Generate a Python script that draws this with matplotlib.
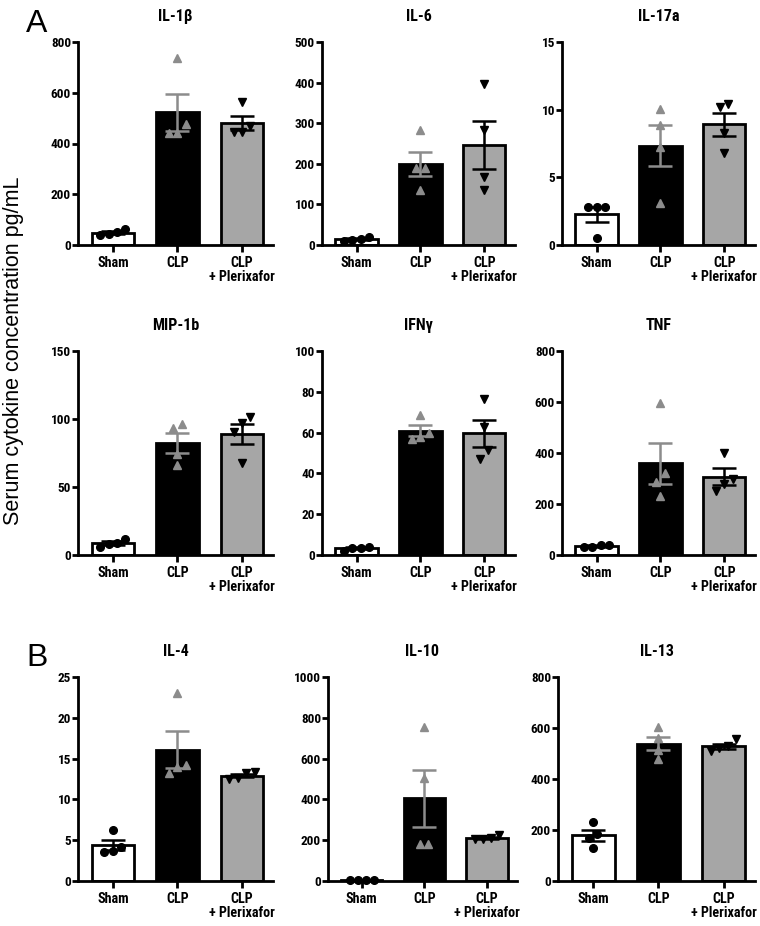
import numpy as np
import matplotlib
matplotlib.use("Agg")
import matplotlib.pyplot as plt

# ---------------- data ----------------
groups = ["Sham", "CLP", "CLP\n+ Plerixafor"]
titles = ["IL-1β", "IL-6", "IL-17a", "MIP-1b", "IFNγ", "TNF", "IL-4", "IL-10", "IL-13"]
ymax_list = [800, 500, 15, 150, 100, 800, 25, 1000, 800]
ystep_list = [200, 100, 5, 50, 20, 200, 5, 200, 200]

sham = [
    [45, 38, 50, 62],
    [15, 10, 12, 20],
    [2.83, 2.83, 2.83, 0.54],
    [8, 6, 9, 12],
    [3.5, 2, 3.5, 4],
    [38, 30, 33, 40],
    [6.2, 4.2, 3.7, 3.6],
    [5, 3, 4, 6],
    [233, 185, 170, 128],
]
clp = [
    [735, 475, 440, 440],
    [283, 190, 190, 135],
    [10.08, 8.85, 7.25, 3.12],
    [96, 93.5, 74.6, 66],
    [68.5, 60, 58, 57],
    [597, 321, 288, 230],
    [23, 14.2, 14, 13.2],
    [756, 507, 180, 180],
    [602, 560, 515, 478],
]
clp_plx = [
    [565, 470, 445, 445],
    [397, 283, 168, 135],
    [10.4, 10.2, 8.3, 6.8],
    [101.5, 97, 90.5, 67.3],
    [76.7, 62.8, 51.7, 47.3],
    [400, 298, 280, 250],
    [13.3, 13.2, 12.6, 12.5],
    [205, 205, 210, 225],
    [555, 530, 520, 510],
]

# ---------------- style ----------------
W, H = 760, 926
FONT = ["Liberation Sans Narrow", "Roboto Condensed", "DejaVu Sans"]
plt.rcParams["font.family"] = FONT

fig = plt.figure(figsize=(W / 100, H / 100), dpi=100)

rows = [(42, 245), (351, 555), (677, 881)]
cols = [[(78, 273), (322, 515), (562, 755)],
        [(78, 273), (322, 515), (562, 755)],
        [(78, 273), (328, 517), (558, 755)]]

bar_colors = ["white", "black", "#a6a6a6"]
err_colors = ["black", "#8c8c8c", "black"]
mk = ["o", "^", "v"]
mk_colors = ["black", "#8c8c8c", "black"]


def swarm_offsets(vals, ymax):
    vals = np.asarray(vals, float)
    order = np.argsort(vals)
    offs = np.zeros(len(vals))
    thr = 0.045 * ymax
    clusters = []
    cur = [order[0]]
    for i in order[1:]:
        if vals[i] - vals[cur[-1]] < thr:
            cur.append(i)
        else:
            clusters.append(cur)
            cur = [i]
    clusters.append(cur)
    for c in clusters:
        n = len(c)
        for k, idx in enumerate(c):
            offs[idx] = (k - (n - 1) / 2) * 0.13
    return offs


for p in range(9):
    r, c = divmod(p, 3)
    top, bot = rows[r]
    l, rr = cols[r][c]
    ax = fig.add_axes([l / W, 1 - bot / H, (rr - l) / W, (bot - top) / H])
    data = [sham[p], clp[p], clp_plx[p]]
    ymax = ymax_list[p]
    means = [np.mean(d) for d in data]
    sems = [np.std(d, ddof=1) / np.sqrt(len(d)) for d in data]
    x = np.arange(3)
    ax.bar(x, means, width=0.66, color=bar_colors, edgecolor="black",
           linewidth=2.0, zorder=2)
    for i in range(3):
        offs = swarm_offsets(data[i], ymax)
        ax.plot(x[i] + offs, data[i], linestyle="none", marker=mk[i],
                color=mk_colors[i], markersize=5.5,
                zorder=3, clip_on=False)
        ax.errorbar(x[i], means[i], yerr=sems[i], fmt="none",
                    ecolor=err_colors[i], elinewidth=1.8, capsize=8.5,
                    capthick=1.8, zorder=4)
    ax.set_xlim(-0.54, 2.48)
    ax.set_ylim(0, ymax)
    ax.set_yticks(np.arange(0, ymax + ystep_list[p] / 2, ystep_list[p]))
    ax.set_xticks(x)
    ax.set_xticklabels(groups, fontsize=10.2, fontweight="bold", linespacing=1.0)
    for t in ax.get_yticklabels():
        t.set_fontsize(9.5)
        t.set_fontweight("bold")
    for s in ["top", "right"]:
        ax.spines[s].set_visible(False)
    for s in ["left", "bottom"]:
        ax.spines[s].set_linewidth(2.0)
    ax.tick_params(axis="y", direction="out", length=4, width=2, pad=1)
    ax.tick_params(axis="x", direction="out", length=5, width=2, pad=3)
    ax.set_title(titles[p], fontsize=11.5, fontweight="bold", pad=15)

fig.text(14 / W, 1 - 351 / H, "Serum cytokine concentration pg/mL",
         rotation=90, ha="center", va="center", fontsize=15.5,
         family=["Liberation Sans", "DejaVu Sans"])
fig.text(37 / W, 1 - 24 / H, "A", ha="center", va="center", fontsize=23,
         family=["Liberation Sans", "DejaVu Sans"])
fig.text(37 / W, 1 - 658 / H, "B", ha="center", va="center", fontsize=23,
         family=["Liberation Sans", "DejaVu Sans"])

fig.savefig("out.png", dpi=100)
